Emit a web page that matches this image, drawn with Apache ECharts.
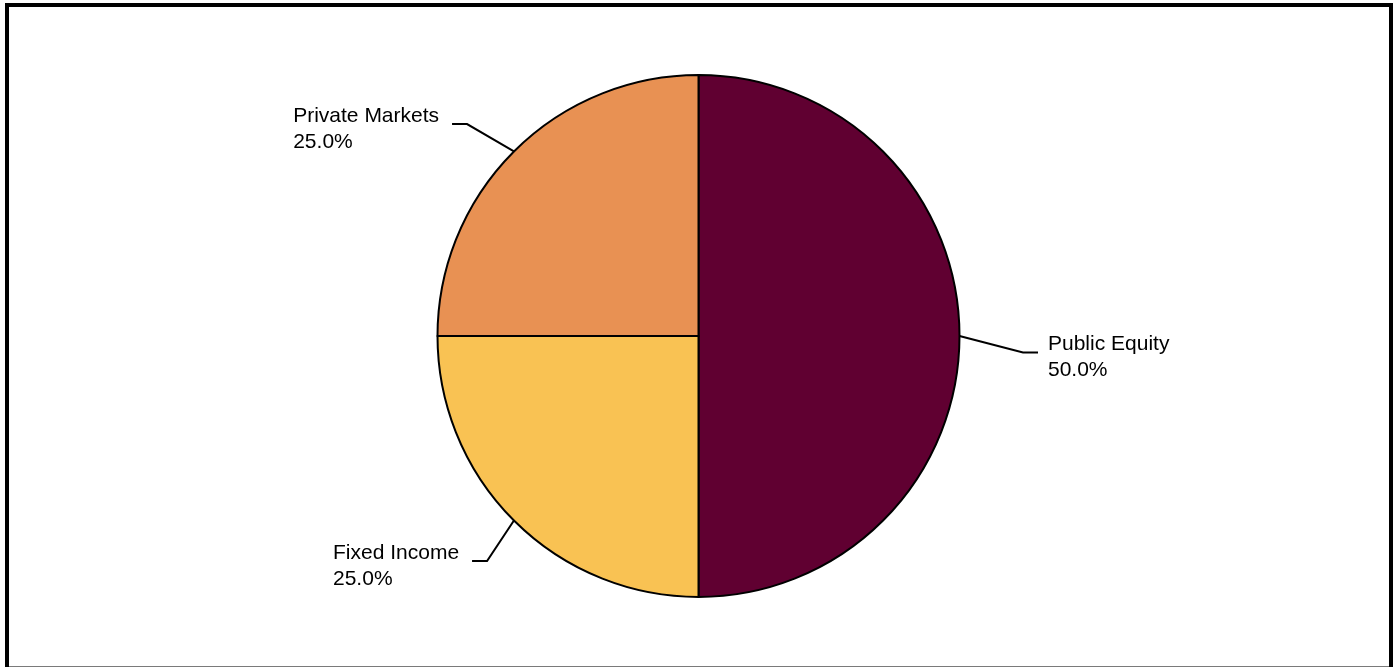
<!DOCTYPE html>
<html>
<head>
<meta charset="utf-8">
<title>Asset allocation</title>
<script src="https://cdn.jsdelivr.net/npm/echarts@6/dist/echarts.min.js"></script>
<style>
  html, body { margin: 0; padding: 0; background: #fff; }
  #chart { position: absolute; left: 0; top: 0; width: 1398px; height: 667px; }
  #frame {
    position: absolute; left: 5px; top: 3px; width: 1380px; height: 700px;
    border: 4px solid #000; border-bottom: none; pointer-events: none;
  }
  #baseline {
    position: absolute; left: 9px; top: 666px; width: 1380px; height: 1px;
    background: #7a7a7a; pointer-events: none;
  }
</style>
</head>
<body>
<div id="chart"></div>
<div id="frame"></div>
<div id="baseline"></div>
<script>
// Allocation data
const categories = ['Public Equity', 'Fixed Income', 'Private Markets'];
const shares = [50.0, 25.0, 25.0];

// Styling
const sliceColors = ['#600031', '#F9C253', '#E89153'];
// per-label [dx, dy] nudge applied after the library's own label placement
const labelNudge = [[8.5, 16.5], [12, 1.5], [-8, 11.5]];

const FONT = '"Liberation Sans", Arial, sans-serif';

const chart = echarts.init(document.getElementById('chart'), null, { renderer: 'canvas' });

chart.setOption({
  animation: false,
  backgroundColor: 'transparent',
  series: [{
    type: 'pie',
    center: [698.5, 336],
    radius: 261,
    startAngle: 90,
    clockwise: true,
    avoidLabelOverlap: false,
    data: categories.map((name, i) => ({
      name: name,
      value: shares[i],
      itemStyle: { color: sliceColors[i] }
    })),
    itemStyle: { borderColor: '#000', borderWidth: 2 },
    label: {
      show: true,
      position: 'outside',
      distanceToLabelLine: 0,
      // invisible box: keeps the leader line clear of the text and sets
      // where it meets the label vertically
      backgroundColor: 'rgba(255,255,255,0)',
      padding: [10, 13, 0, 10],
      formatter: p => `{t|${p.name}}\n{t|${p.percent.toFixed(1)}%}`,
      rich: {
        t: { align: 'left', fontSize: 21, lineHeight: 26, fontFamily: FONT, color: '#000' }
      }
    },
    labelLine: {
      show: true,
      length: 55,
      length2: 15,
      minTurnAngle: 0,
      lineStyle: { color: '#000', width: 2 }
    },
    labelLayout: function (p) {
      const r = p.labelRect;
      const n = labelNudge[p.dataIndex];
      const ax = p.align === 'right' ? r.x + r.width : (p.align === 'center' ? r.x + r.width / 2 : r.x);
      return { x: ax + n[0], y: r.y + r.height / 2 + n[1] };
    },
    emphasis: { disabled: true }
  }]
});
</script>
</body>
</html>
